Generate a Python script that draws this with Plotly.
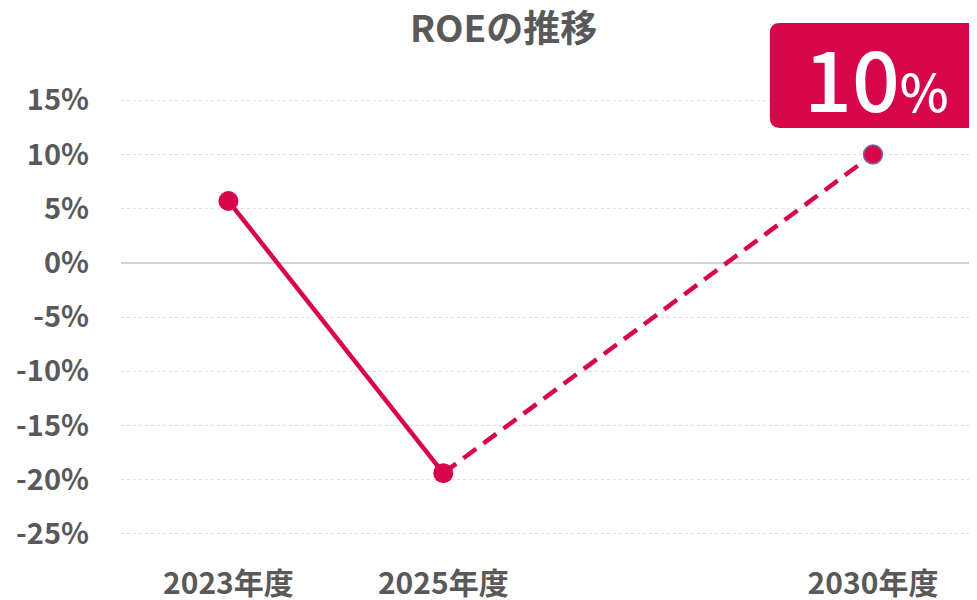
import plotly.graph_objects as go

# ---- data ----
categories = ["2023年度", "2025年度", " ", "2030年度"]
actual_x = ["2023年度", "2025年度"]
actual_roe = [5.7, -19.4]
plan_x = ["2025年度", "2030年度"]
plan_roe = [-19.4, 10.0]
target_label = "10"
y_tickvals = [15, 10, 5, 0, -5, -10, -15, -20, -25]
y_ticktext = [f"{v}%" for v in y_tickvals]

RED = "#D7064A"
GREY = "#595959"
FONT = "Noto Sans CJK JP"

fig = go.Figure()

fig.add_trace(go.Scatter(
    x=plan_x, y=plan_roe, mode="lines",
    line=dict(color=RED, width=4.5, dash="16px,9px"),
    hoverinfo="skip", showlegend=False,
))
fig.add_trace(go.Scatter(
    x=actual_x, y=actual_roe, mode="lines+markers",
    line=dict(color=RED, width=4.5),
    marker=dict(color=RED, size=20),
    showlegend=False,
))
fig.add_trace(go.Scatter(
    x=plan_x[-1:], y=plan_roe[-1:], mode="markers",
    marker=dict(color=RED, size=19, line=dict(color="#7E6BA8", width=1.5)),
    showlegend=False,
))

# rounded label box (paper coords)
x0, x1, y0, y1 = 0.758, 1.0, 0.8408, 1.0447
rx, ry = 0.0117, 0.0194
path = (f"M {x0+rx},{y1} L {x1-rx},{y1} Q {x1},{y1} {x1},{y1-ry} "
        f"L {x1},{y0+ry} Q {x1},{y0} {x1-rx},{y0} L {x0+rx},{y0} "
        f"Q {x0},{y0} {x0},{y0+ry} L {x0},{y1-ry} Q {x0},{y1} {x0+rx},{y1} Z")
fig.add_shape(type="path", path=path, xref="paper", yref="paper",
              fillcolor=RED, line=dict(width=0), layer="above")

fig.add_annotation(
    x=0.883, y=0.943, xref="paper", yref="paper", showarrow=False,
    text=f"{target_label}<span style='font-size:52px'>%</span>",
    font=dict(family=FONT, size=84, color="white", weight=500),
    xanchor="center", yanchor="middle",
)

fig.update_layout(
    width=969, height=592,
    margin=dict(l=113, r=0, t=38, b=39),
    paper_bgcolor="white", plot_bgcolor="white",
    title=dict(text="<b>ROEの推移</b>", x=0.447, xref="paper", xanchor="center",
               y=0.9645, yanchor="middle",
               font=dict(family=FONT, size=37, color=GREY)),
    font=dict(family=FONT, color=GREY),
    xaxis=dict(
        type="category", categoryorder="array", categoryarray=categories,
        range=[-0.5, 3.484], showgrid=False, zeroline=False, showline=False,
        tickfont=dict(family=FONT, size=30, color=GREY, weight="bold"),
        ticks="", ticklabelstandoff=2, automargin=False,
    ),
    yaxis=dict(
        range=[-27.5, 20], tickvals=y_tickvals, ticktext=y_ticktext,
        showgrid=True, gridcolor="#DDDDDD", griddash="dot", gridwidth=1,
        zeroline=True, zerolinecolor="#D4D4D4", zerolinewidth=2,
        tickfont=dict(family=FONT, size=29, color=GREY, weight="bold"),
        ticks="", ticklabelstandoff=31, showline=False, automargin=False,
    ),
)

fig.write_html("out.html")
